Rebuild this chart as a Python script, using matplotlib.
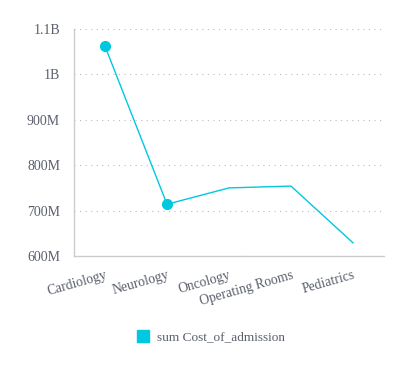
import matplotlib
matplotlib.use("Agg")
import matplotlib.pyplot as plt
from matplotlib.lines import Line2D

categories = ["Cardiology", "Neurology", "Oncology", "Operating Rooms", "Pediatrics"]
values = [1062e6, 714e6, 750e6, 754e6, 629e6]
yticks = [600e6, 700e6, 800e6, 900e6, 1000e6, 1100e6]
ytick_labels = ["600M", "700M", "800M", "900M", "1B", "1.1B"]
series_name = "sum Cost_of_admission"

color = "#00C8E0"
text_color = "#5a5f6b"
plt.rcParams['font.family'] = ['Liberation Serif', 'DejaVu Serif']

fig = plt.figure(figsize=(4.16, 3.78), dpi=100)
ax = fig.add_axes([74/416, 1-256/378, 310/416, 227/378])

x = list(range(len(categories)))
ax.plot(x, values, color=color, lw=1.0, marker='o', markersize=7, markevery=[0, 1])

ax.set_xlim(-0.5, len(categories) - 0.5)
ax.set_ylim(600e6, 1100e6)
ax.set_yticks(yticks)
ax.set_yticklabels(ytick_labels)
ax.set_xticks(x)
ax.set_xticklabels(categories, rotation=16, ha='right', rotation_mode='anchor')
ax.tick_params(length=0, labelsize=10, colors=text_color)
ax.tick_params(axis='y', pad=10)
ax.tick_params(axis='x', pad=9, labelsize=9.8)
ax.grid(axis='y', linestyle=(0, (1, 4)), color='#bbbbbb', lw=0.8)
ax.set_axisbelow(True)
for s in ['top', 'right']:
    ax.spines[s].set_visible(False)
for s in ['left', 'bottom']:
    ax.spines[s].set_color('#cccccc')
    ax.spines[s].set_linewidth(1.0)

handle = Line2D([], [], marker='s', linestyle='none', color=color, markersize=8)
fig.legend([handle], [series_name], loc='center', bbox_to_anchor=(207/416, 1-337/378),
           frameon=False, fontsize=9.5, labelcolor=text_color, handletextpad=0.05)

fig.savefig("out.png", dpi=100)
